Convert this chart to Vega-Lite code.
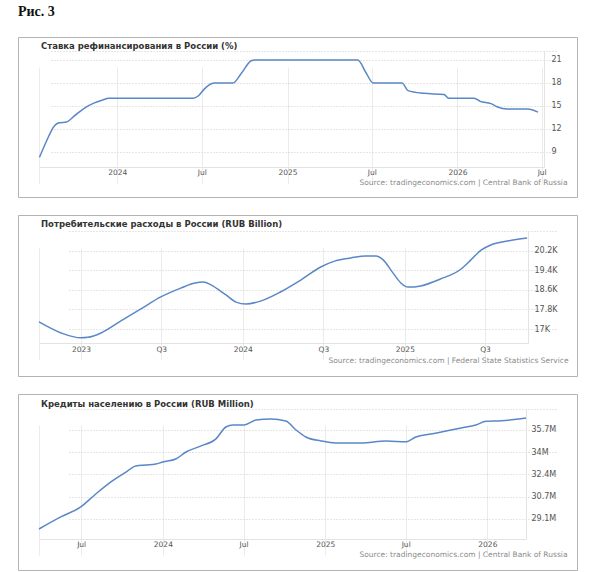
{
  "$schema": "https://vega.github.io/schema/vega-lite/v6.json",
  "background": "white",
  "padding": {"left": 17, "top": 4, "right": 18, "bottom": 5},
  "title": {"text": "Рис. 3", "anchor": "start", "frame": "group", "font": "Liberation Serif", "fontSize": 14, "fontWeight": "bold", "color": "#111111", "offset": 18},
  "spacing": 16,
  "config": {
    "view": {"stroke": "#b3b3b3", "strokeWidth": 1},
    "axis": {
      "labelFont": "DejaVu Sans", "labelFontSize": 7.5, "labelColor": "#555555",
      "titleFont": "DejaVu Sans", "titleFontSize": 7.5, "titleColor": "#8a8a8a", "titleFontWeight": "normal",
      "ticks": false, "domainColor": "#e3e3e3", "gridColor": "#ebebeb"
    },
    "axisY": {"gridDash": [1, 2], "gridColor": "#cccccc", "labelFontSize": 8},
    "title": {"font": "DejaVu Sans", "fontSize": 8.5, "fontWeight": "bold", "color": "#333333"},
    "line": {"color": "#5a87c8", "strokeWidth": 1.5, "interpolate": "monotone"}
  },
  "vconcat": [
    {
      "width": 559,
      "height": 160,
      "title": {"text": "Ставка рефинансирования в России (%)", "anchor": "start", "frame": "group", "offset": -13.5, "dx": 23},
      "data": {"values": [
        {"date": "2023-07-18", "rate": 8.3},
        {"date": "2023-08-02", "rate": 10.4},
        {"date": "2023-08-19", "rate": 12.4},
        {"date": "2023-08-29", "rate": 12.8},
        {"date": "2023-09-14", "rate": 12.9},
        {"date": "2023-10-01", "rate": 13.7},
        {"date": "2023-10-22", "rate": 14.7},
        {"date": "2023-11-13", "rate": 15.4},
        {"date": "2023-12-02", "rate": 15.8},
        {"date": "2023-12-13", "rate": 16.0},
        {"date": "2024-06-12", "rate": 16.0},
        {"date": "2024-06-23", "rate": 16.3},
        {"date": "2024-07-06", "rate": 17.2},
        {"date": "2024-07-21", "rate": 17.9},
        {"date": "2024-07-28", "rate": 18.0},
        {"date": "2024-09-06", "rate": 18.0},
        {"date": "2024-09-23", "rate": 19.2},
        {"date": "2024-10-15", "rate": 20.9},
        {"date": "2024-10-22", "rate": 21.0},
        {"date": "2025-06-01", "rate": 21.0},
        {"date": "2025-06-18", "rate": 19.4},
        {"date": "2025-07-04", "rate": 18.0},
        {"date": "2025-09-04", "rate": 18.0},
        {"date": "2025-09-17", "rate": 17.0},
        {"date": "2025-10-20", "rate": 16.65},
        {"date": "2025-12-03", "rate": 16.5},
        {"date": "2025-12-14", "rate": 16.0},
        {"date": "2026-02-06", "rate": 16.0},
        {"date": "2026-02-19", "rate": 15.6},
        {"date": "2026-03-14", "rate": 15.3},
        {"date": "2026-03-27", "rate": 14.9},
        {"date": "2026-04-17", "rate": 14.6},
        {"date": "2026-06-01", "rate": 14.6},
        {"date": "2026-06-23", "rate": 14.2}
      ]},
      "mark": {"type": "line"},
      "encoding": {
        "x": {
          "field": "date", "type": "temporal",
          "scale": {"type": "utc", "domain": [{"year": 2023, "month": 7, "date": 17, "utc": true}, {"year": 2026, "month": 7, "date": 6, "utc": true}], "range": [21, 526]},
          "axis": {
            "values": [
              {"year": 2023, "month": 7, "date": 17, "utc": true},
              {"year": 2024, "month": 1, "date": 1, "utc": true},
              {"year": 2024, "month": 7, "date": 1, "utc": true},
              {"year": 2025, "month": 1, "date": 1, "utc": true},
              {"year": 2025, "month": 7, "date": 1, "utc": true},
              {"year": 2026, "month": 1, "date": 1, "utc": true},
              {"year": 2026, "month": 7, "date": 1, "utc": true}
            ],
            "labelExpr": "utcyear(datum.value) == 2023 ? '' : utcmonth(datum.value) == 0 ? utcFormat(datum.value, '%Y') : 'Jul'",
            "offset": -30, "labelPadding": 1,
            "title": "Source: tradingeconomics.com | Central Bank of Russia",
            "titleX": 549, "titleY": 15, "titleAlign": "right", "titleBaseline": "middle"
          }
        },
        "y": {
          "field": "rate", "type": "quantitative",
          "scale": {"domain": [7.04, 22.17], "range": [130, 14], "zero": false, "nice": false},
          "axis": {"orient": "right", "values": [9, 12, 15, 18, 21, 22.17], "labelExpr": "datum.value > 22 ? '' : datum.value", "offset": -33, "labelPadding": 7, "title": null}
        }
      }
    },
    {
      "width": 559,
      "height": 161,
      "title": {"text": "Потребительские расходы в России (RUB Billion)", "anchor": "start", "frame": "group", "offset": -13.5, "dx": 23},
      "data": {"values": [
        {"date": "2022-09-28", "spending": 17.29},
        {"date": "2022-11-17", "spending": 16.84},
        {"date": "2023-01-01", "spending": 16.64},
        {"date": "2023-01-16", "spending": 16.66},
        {"date": "2023-02-15", "spending": 16.84},
        {"date": "2023-04-01", "spending": 17.33},
        {"date": "2023-05-16", "spending": 17.82},
        {"date": "2023-06-30", "spending": 18.31},
        {"date": "2023-08-14", "spending": 18.67},
        {"date": "2023-09-15", "spending": 18.88},
        {"date": "2023-10-05", "spending": 18.92},
        {"date": "2023-10-21", "spending": 18.80},
        {"date": "2023-11-24", "spending": 18.39},
        {"date": "2023-12-17", "spending": 18.10},
        {"date": "2024-01-08", "spending": 18.02},
        {"date": "2024-02-10", "spending": 18.14},
        {"date": "2024-03-26", "spending": 18.51},
        {"date": "2024-05-11", "spending": 19.0},
        {"date": "2024-06-25", "spending": 19.53},
        {"date": "2024-07-28", "spending": 19.78},
        {"date": "2024-09-01", "spending": 19.90},
        {"date": "2024-10-05", "spending": 19.98},
        {"date": "2024-10-28", "spending": 19.98},
        {"date": "2024-11-13", "spending": 19.82},
        {"date": "2024-12-05", "spending": 19.29},
        {"date": "2024-12-23", "spending": 18.88},
        {"date": "2025-01-08", "spending": 18.71},
        {"date": "2025-02-06", "spending": 18.76},
        {"date": "2025-03-22", "spending": 19.04},
        {"date": "2025-05-08", "spending": 19.45},
        {"date": "2025-05-30", "spending": 19.82},
        {"date": "2025-06-22", "spending": 20.22},
        {"date": "2025-07-14", "spending": 20.43},
        {"date": "2025-08-21", "spending": 20.59},
        {"date": "2025-10-04", "spending": 20.71}
      ]},
      "mark": {"type": "line"},
      "encoding": {
        "x": {
          "field": "date", "type": "temporal",
          "scale": {"type": "utc", "domain": [{"year": 2022, "month": 9, "date": 28, "utc": true}, {"year": 2025, "month": 10, "date": 6, "utc": true}], "range": [21, 510]},
          "axis": {
            "values": [
              {"year": 2022, "month": 9, "date": 28, "utc": true},
              {"year": 2023, "month": 1, "date": 1, "utc": true},
              {"year": 2023, "month": 7, "date": 1, "utc": true},
              {"year": 2024, "month": 1, "date": 1, "utc": true},
              {"year": 2024, "month": 7, "date": 1, "utc": true},
              {"year": 2025, "month": 1, "date": 1, "utc": true},
              {"year": 2025, "month": 7, "date": 1, "utc": true}
            ],
            "labelExpr": "utcyear(datum.value) == 2022 ? '' : utcmonth(datum.value) == 0 ? utcFormat(datum.value, '%Y') : 'Q3'",
            "offset": -33, "labelPadding": 2,
            "title": "Source: tradingeconomics.com | Federal State Statistics Service",
            "titleX": 550, "titleY": 17.5, "titleAlign": "right", "titleBaseline": "middle"
          }
        },
        "y": {
          "field": "spending", "type": "quantitative",
          "scale": {"domain": [16.43, 21.0], "range": [128, 16], "zero": false, "nice": false},
          "axis": {"orient": "right", "values": [17, 17.8, 18.6, 19.4, 20.2, 21.0], "labelExpr": "datum.value > 20.9 ? '' : datum.value + 'K'", "offset": -49, "labelPadding": 6, "title": null}
        }
      }
    },
    {
      "width": 559,
      "height": 176,
      "title": {"text": "Кредиты населению в России (RUB Million)", "anchor": "start", "frame": "group", "offset": -14.5, "dx": 23},
      "data": {"values": [
        {"date": "2023-03-28", "loans": 28.36},
        {"date": "2023-05-16", "loans": 29.25},
        {"date": "2023-06-30", "loans": 29.99},
        {"date": "2023-08-03", "loans": 30.95},
        {"date": "2023-09-06", "loans": 31.84},
        {"date": "2023-10-10", "loans": 32.57},
        {"date": "2023-11-01", "loans": 33.02},
        {"date": "2023-11-24", "loans": 33.09},
        {"date": "2023-12-16", "loans": 33.16},
        {"date": "2024-01-01", "loans": 33.31},
        {"date": "2024-01-30", "loans": 33.53},
        {"date": "2024-02-22", "loans": 34.05},
        {"date": "2024-03-27", "loans": 34.5},
        {"date": "2024-04-29", "loans": 35.0},
        {"date": "2024-05-22", "loans": 35.9},
        {"date": "2024-06-07", "loans": 36.05},
        {"date": "2024-07-02", "loans": 36.05},
        {"date": "2024-07-29", "loans": 36.42},
        {"date": "2024-08-31", "loans": 36.5},
        {"date": "2024-10-04", "loans": 36.35},
        {"date": "2024-10-27", "loans": 35.68},
        {"date": "2024-11-18", "loans": 35.16},
        {"date": "2024-12-22", "loans": 34.87},
        {"date": "2025-01-25", "loans": 34.72},
        {"date": "2025-03-22", "loans": 34.72},
        {"date": "2025-05-18", "loans": 34.87},
        {"date": "2025-07-02", "loans": 34.8},
        {"date": "2025-07-24", "loans": 35.16},
        {"date": "2025-08-27", "loans": 35.38},
        {"date": "2025-09-30", "loans": 35.6},
        {"date": "2025-11-03", "loans": 35.83},
        {"date": "2025-12-06", "loans": 36.05},
        {"date": "2025-12-29", "loans": 36.32},
        {"date": "2026-02-01", "loans": 36.36},
        {"date": "2026-03-29", "loans": 36.56}
      ]},
      "mark": {"type": "line"},
      "encoding": {
        "x": {
          "field": "date", "type": "temporal",
          "scale": {"type": "utc", "domain": [{"year": 2023, "month": 3, "date": 28, "utc": true}, {"year": 2026, "month": 3, "date": 29, "utc": true}], "range": [21, 508]},
          "axis": {
            "values": [
              {"year": 2023, "month": 3, "date": 28, "utc": true},
              {"year": 2023, "month": 7, "date": 1, "utc": true},
              {"year": 2024, "month": 1, "date": 1, "utc": true},
              {"year": 2024, "month": 7, "date": 1, "utc": true},
              {"year": 2025, "month": 1, "date": 1, "utc": true},
              {"year": 2025, "month": 7, "date": 1, "utc": true},
              {"year": 2026, "month": 1, "date": 1, "utc": true}
            ],
            "labelExpr": "utcmonth(datum.value) == 2 && utcyear(datum.value) == 2023 ? '' : utcmonth(datum.value) == 0 ? utcFormat(datum.value, '%Y') : 'Jul'",
            "offset": -31, "labelPadding": 1,
            "title": "Source: tradingeconomics.com | Central Bank of Russia",
            "titleX": 549, "titleY": 15, "titleAlign": "right", "titleBaseline": "middle"
          }
        },
        "y": {
          "field": "loans", "type": "quantitative",
          "scale": {"domain": [27.62, 37.23], "range": [145, 15], "zero": false, "nice": false},
          "axis": {"orient": "right", "values": [29.1, 30.75, 32.4, 34.05, 35.7, 37.23], "labelExpr": "datum.value > 37 ? '' : datum.value < 30 ? '29.1M' : datum.value < 31 ? '30.7M' : datum.value < 33 ? '32.4M' : datum.value < 35 ? '34M' : '35.7M'", "offset": -51, "labelPadding": 5, "title": null}
        }
      }
    }
  ]
}
